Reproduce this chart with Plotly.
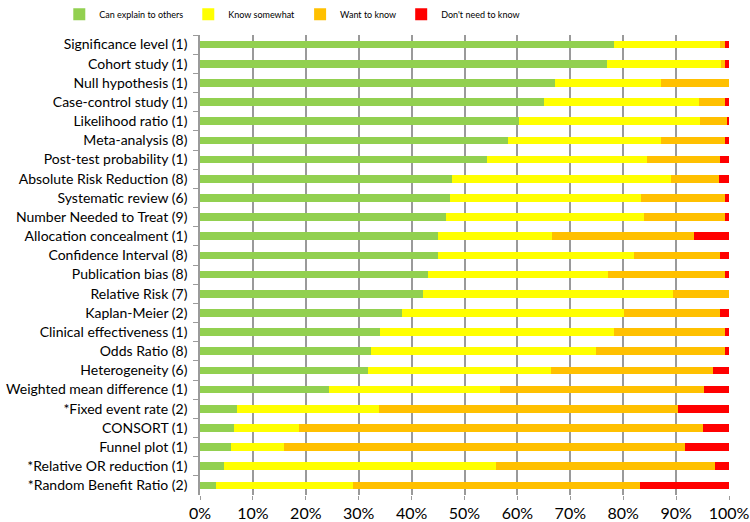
import plotly.graph_objects as go

categories = [
    "Significance level (1)", "Cohort study (1)", "Null hypothesis (1)",
    "Case-control study (1)", "Likelihood ratio (1)", "Meta-analysis (8)",
    "Post-test probability (1)", "Absolute Risk Reduction (8)",
    "Systematic review (6)", "Number Needed to Treat (9)",
    "Allocation concealment (1)", "Confidence Interval (8)",
    "Publication bias (8)", "Relative Risk (7)", "Kaplan-Meier (2)",
    "Clinical effectiveness (1)", "Odds Ratio (8)", "Heterogeneity (6)",
    "Weighted mean difference (1)", "*Fixed event rate (2)", "CONSORT (1)",
    "Funnel plot (1)", "*Relative OR reduction (1)", "*Random Benefit Ratio (2)",
]

can_explain = [78.3, 77.0, 67.2, 65.1, 60.3, 58.2, 54.3, 47.7, 47.2, 46.5, 45.0, 45.0,
               43.1, 42.2, 38.1, 34.0, 32.3, 31.8, 24.3, 6.9, 6.5, 5.8, 4.6, 3.0]
know_somewhat = [20.0, 21.4, 19.9, 29.2, 34.2, 28.9, 30.2, 41.3, 36.1, 37.5, 21.6, 37.1,
                 34.0, 47.3, 42.1, 44.3, 42.6, 34.5, 32.5, 26.9, 12.3, 10.0, 51.4, 26.0]
want_to_know = [0.9, 0.8, 12.9, 4.9, 5.1, 12.1, 13.8, 9.1, 15.9, 15.2, 26.7, 16.2,
                22.1, 10.5, 18.1, 20.9, 24.3, 30.6, 38.5, 56.6, 76.2, 75.9, 41.3, 54.2]
dont_need = [0.8, 0.8, 0.0, 0.8, 0.4, 0.8, 1.7, 1.9, 0.8, 0.8, 6.7, 1.7,
             0.8, 0.0, 1.7, 0.8, 0.8, 3.1, 4.7, 9.6, 5.0, 8.3, 2.7, 16.8]

series = [
    ("Can explain to others", can_explain, "#92D050"),
    ("Know somewhat", know_somewhat, "#FFFF00"),
    ("Want to know", want_to_know, "#FFC000"),
    ("Don't need to know", dont_need, "#FF0000"),
]

x_ticks = [0, 10, 20, 30, 40, 50, 60, 70, 80, 90, 100]
x_tick_labels = ["0%", "10%", "20%", "30%", "40%", "50%", "60%", "70%", "80%", "90%", "100%"]

fig = go.Figure()
for name, vals, color in series:
    fig.add_trace(go.Bar(
        y=categories, x=vals, name=name, orientation="h",
        marker=dict(color=color, line=dict(width=0)),
    ))

fig.update_layout(
    barmode="stack",
    bargap=0.6,
    width=750, height=522,
    margin=dict(l=200, r=21, t=35, b=27, autoexpand=False),
    paper_bgcolor="white", plot_bgcolor="white",
    font=dict(family="Lato", color="black"),
    showlegend=True,
    legend=dict(
        orientation="h", x=-0.266, y=1.045, xanchor="left", yanchor="middle",
        font=dict(size=9, family="Lato"), traceorder="normal",
        itemwidth=30, bgcolor="rgba(0,0,0,0)",
    ),
    xaxis=dict(
        range=[0, 100], tickvals=x_ticks, ticktext=x_tick_labels,
        showgrid=True, gridcolor="#9a9a9a", gridwidth=1.5,
        ticks="outside", ticklen=4, tickcolor="#9a9a9a",
        showline=False, zeroline=False, automargin=False,
        tickfont=dict(size=16, family="Lato"),
        fixedrange=True,
    ),
    yaxis=dict(
        categoryorder="array", categoryarray=categories, autorange="reversed",
        tickson="boundaries", ticks="outside", ticklen=5, tickcolor="#9a9a9a",
        showline=True, linecolor="#9a9a9a", linewidth=1.5, automargin=False,
        showgrid=False, tickfont=dict(size=14, family="Lato"),
        ticklabelstandoff=8,
    ),
)

fig.write_html(
    "out.html",
    config={"displayModeBar": False},
    post_script="document.body.style.margin='0';document.body.style.overflow='hidden';",
)
